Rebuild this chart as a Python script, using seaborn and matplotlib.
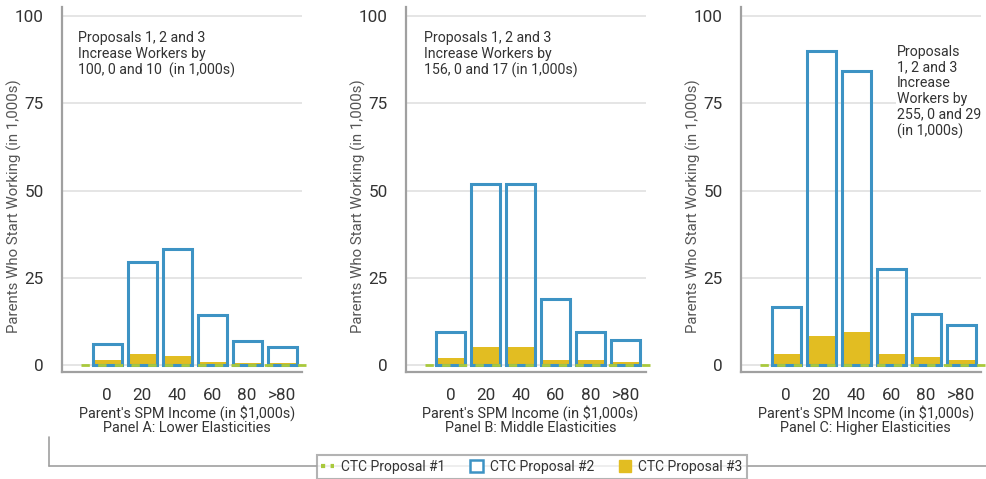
import matplotlib
matplotlib.use("Agg")
import matplotlib.pyplot as plt
from matplotlib.lines import Line2D
from matplotlib.patches import Patch
import seaborn as sns
import pandas as pd

# Income brackets (in $1,000s)
income_labels = ["0", "20", "40", "60", "80", ">80"]

# Parents who start working (in 1,000s)
prop1_a = [0, 0, 0, 0, 0, 0]
prop2_a = [6.0, 29.6, 33.3, 14.2, 6.8, 5.1]
prop3_a = [1.5, 3.2, 2.7, 1.0, 0.7, 0.7]

prop1_b = [0, 0, 0, 0, 0, 0]
prop2_b = [9.6, 51.8, 51.8, 18.8, 9.6, 7.3]
prop3_b = [2.1, 5.2, 5.2, 1.5, 1.5, 1.0]

prop1_c = [0, 0, 0, 0, 0, 0]
prop2_c = [16.5, 89.9, 84.3, 27.4, 14.5, 11.6]
prop3_c = [3.2, 8.4, 9.5, 3.2, 2.4, 1.5]

panel_titles = ["Panel A: Lower Elasticities",
                "Panel B: Middle Elasticities",
                "Panel C: Higher Elasticities"]
panel_notes = ["Proposals 1, 2 and 3\nIncrease Workers by\n100, 0 and 10  (in 1,000s)",
               "Proposals 1, 2 and 3\nIncrease Workers by\n156, 0 and 17 (in 1,000s)",
               "Proposals\n1, 2 and 3\nIncrease\nWorkers by\n255, 0 and 29\n(in 1,000s)"]
y_ticks = [0, 25, 50, 75, 100]

BLUE = "#3d93c4"
YELLOW = "#e2bd22"
GREEN = "#a9c93c"
AXIS_GRAY = "#a0a0a0"
GRID_GRAY = "#e0e0e0"
TEXT = "#333333"

sns.set_theme(style="white")
plt.rcParams["font.family"] = ["Roboto", "DejaVu Sans"]

fig = plt.figure(figsize=(9.87, 4.79), dpi=100)

lefts = [62 / 987, 405.7 / 987, 741 / 987]
width = 240 / 987
bottom = 1 - 372 / 479
height = (372 - 7) / 479

panels = [(prop1_a, prop2_a, prop3_a), (prop1_b, prop2_b, prop3_b), (prop1_c, prop2_c, prop3_c)]
note_pos = [(78, 31), (424, 31), (897, 45)]

for i, (p1, p2, p3) in enumerate(panels):
    ax = fig.add_axes([lefts[i], bottom, width, height])
    df = pd.DataFrame({"income": income_labels, "p1": p1, "p2": p2, "p3": p3})

    for y in y_ticks:
        ax.axhline(y, color=GRID_GRAY, lw=1.2, zorder=0)

    sns.barplot(data=df, x="income", y="p3", order=income_labels, color=YELLOW,
                width=0.83, linewidth=0, saturation=1, ax=ax, zorder=2)
    sns.barplot(data=df, x="income", y="p2", order=income_labels, fill=False,
                color=BLUE, edgecolor=BLUE, width=0.83, linewidth=2.2,
                saturation=1, ax=ax, zorder=3)
    ax.hlines(df["p1"].max(), -0.74, 5.69, colors=GREEN, linestyles=(0, (3, 3)),
              lw=2, zorder=4, clip_on=False)

    ax.set_xlim(-1.29, 5.57)
    ax.set_ylim(-2.0, 102.6)
    ax.set_yticks(y_ticks)
    ax.set_xticks(range(len(income_labels)))
    ax.set_xticklabels(income_labels)

    for side in ["top", "right"]:
        ax.spines[side].set_visible(False)
    for side in ["left", "bottom"]:
        ax.spines[side].set_color(AXIS_GRAY)
        ax.spines[side].set_linewidth(1.6)

    ax.tick_params(axis="both", which="major", length=10, width=1.6,
                   color=AXIS_GRAY, labelcolor=TEXT, labelsize=12.3)
    ax.tick_params(axis="y", pad=3)
    ax.tick_params(axis="x", pad=1.5)

    ax.set_ylabel("Parents Who Start Working (in 1,000s)", fontsize=10.8,
                  color="#555555", va="center")
    ax.yaxis.set_label_coords(-0.197, 0.455)
    ax.set_xlabel("Parent's SPM Income (in $1,000s)\n" + panel_titles[i],
                  fontsize=10.4, color=TEXT, labelpad=0, linespacing=1.05)
    ax.xaxis.set_label_coords(0.52, -0.09)
    ax.xaxis.label.set_va("top")

    tx, ty = note_pos[i]
    fig.text(tx / 987, 1 - ty / 479, panel_notes[i], fontsize=10.2, color=TEXT,
             va="top", ha="left", linespacing=1.15,
             bbox=dict(facecolor="white", edgecolor="none", pad=1))

# Bracket line framing the legend
fig.add_artist(Line2D([49 / 987, 49 / 987], [1 - 437 / 479, 1 - 466 / 479],
                      color=AXIS_GRAY, lw=1.2))
fig.add_artist(Line2D([49 / 987, 1.0], [1 - 466 / 479, 1 - 466 / 479],
                      color=AXIS_GRAY, lw=1.2, zorder=0))

handles = [
    Line2D([0], [0], color=GREEN, lw=3, linestyle=(0, (1, 1.3))),
    Patch(facecolor="white", edgecolor=BLUE, linewidth=1.8),
    Patch(facecolor=YELLOW, edgecolor=YELLOW),
]
labels = ["CTC Proposal #1", "CTC Proposal #2", "CTC Proposal #3"]
leg = fig.legend(handles, labels, loc="center", ncol=3,
                 bbox_to_anchor=(532 / 987, 1 - 467 / 479), frameon=True,
                 fancybox=False, edgecolor=AXIS_GRAY, fontsize=10,
                 handlelength=0.9, handleheight=1.0, handletextpad=0.5,
                 columnspacing=1.8, borderpad=0.35, labelcolor=TEXT)
leg.get_frame().set_linewidth(1.5)
leg.get_frame().set_facecolor("white")
leg.set_zorder(5)

fig.savefig("out.png", dpi=100)
